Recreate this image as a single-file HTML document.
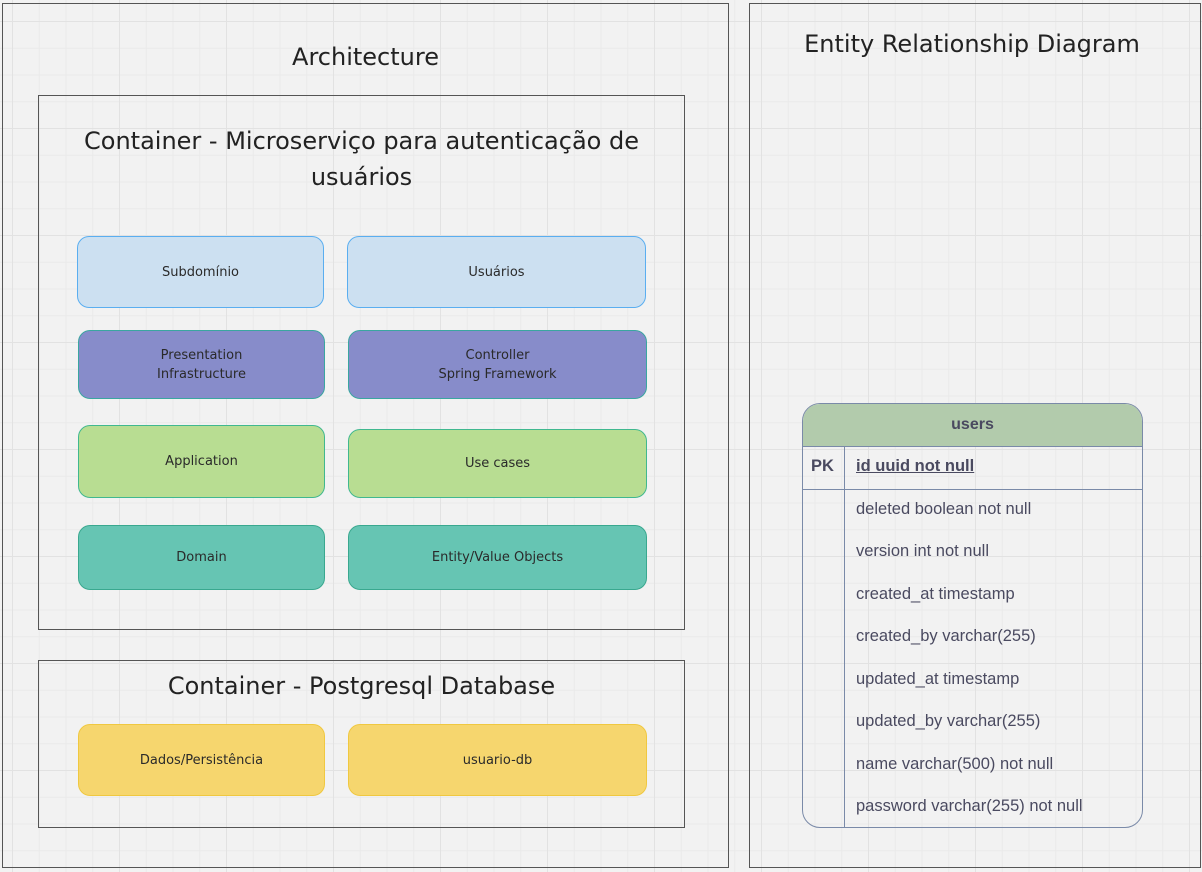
<!DOCTYPE html>
<html><head><meta charset="utf-8"><style>
body{margin:0;width:1202px;height:872px;overflow:hidden;background:#f2f2f2;font-family:"Liberation Sans","DejaVu Sans",sans-serif;position:relative;
background-image:linear-gradient(#e2e2e2 1px,transparent 1px),linear-gradient(90deg,#e2e2e2 1px,transparent 1px),linear-gradient(#eaeaea 1px,transparent 1px),linear-gradient(90deg,#eaeaea 1px,transparent 1px);
background-size:107px 107px,107px 107px,26.75px 26.75px,26.75px 26.75px;background-position:0 21px,12px 0,0 21px,12px 0;}
.a{position:absolute;box-sizing:border-box}
.frame{border:1px solid #555}
.t{text-align:center;color:#222;font-family:'DejaVu Sans',sans-serif;font-size:24px}
.b{position:absolute;box-sizing:border-box;border-radius:12px;display:flex;align-items:center;justify-content:center;text-align:center;color:#2a2a2a;line-height:19px;font-family:"DejaVu Sans",sans-serif;font-size:13px}
.lb{background:#cce0f1;border:1px solid #5aaef0}
.pu{background:#878cca;border:1px solid #3aa6a0}
.gr{background:#b8dd92;border:1px solid #40b88f}
.te{background:#66c5b3;border:1px solid #39a88f}
.ye{background:#f6d66e;border:1px solid #f0c840}
.row{position:absolute;left:856px;font-size:16.5px;color:#4a4a60}
</style></head><body>
<div class="a frame" style="left:2px;top:3px;width:727px;height:865px"></div>
<div class="a frame" style="left:749px;top:3px;width:452px;height:865px"></div>
<div class="a t" style="left:2px;top:43px;width:727px">Architecture</div>
<div class="a t" style="left:749px;top:30px;width:446px">Entity Relationship Diagram</div>
<div class="a frame" style="left:38px;top:95px;width:647px;height:535px"></div>
<div class="a t" style="left:38px;top:123px;width:647px;line-height:36px">Container - Microserviço para autenticação de<br>usuários</div>
<div class="b lb" style="left:77px;top:236px;width:247px;height:72px">Subdomínio</div>
<div class="b lb" style="left:347px;top:236px;width:299px;height:72px">Usuários</div>
<div class="b pu" style="left:78px;top:330px;width:247px;height:69px">Presentation<br>Infrastructure</div>
<div class="b pu" style="left:348px;top:330px;width:299px;height:69px">Controller<br>Spring Framework</div>
<div class="b gr" style="left:78px;top:425px;width:247px;height:73px">Application</div>
<div class="b gr" style="left:348px;top:429px;width:299px;height:69px">Use cases</div>
<div class="b te" style="left:78px;top:525px;width:247px;height:65px">Domain</div>
<div class="b te" style="left:348px;top:525px;width:299px;height:65px">Entity/Value Objects</div>
<div class="a frame" style="left:38px;top:660px;width:647px;height:168px"></div>
<div class="a t" style="left:38px;top:672px;width:647px">Container - Postgresql Database</div>
<div class="b ye" style="left:78px;top:724px;width:247px;height:72px">Dados/Persistência</div>
<div class="b ye" style="left:348px;top:724px;width:299px;height:72px">usuario-db</div>

<div class="a" style="left:802px;top:403px;width:341px;height:425px;border:1.5px solid #7a8aa8;border-radius:18px;overflow:hidden">
<div style="height:42px;background:#b2cbac;border-bottom:1.5px solid #7a8aa8;text-align:center;line-height:42px;font-weight:bold;font-size:16px;color:#4a4a60">users</div>
<div style="height:42px;border-bottom:1.5px solid #7a8aa8"></div>
<div style="position:absolute;left:41px;top:42px;bottom:0;border-left:1.5px solid #7a8aa8"></div>
</div>
<div class="row" style="left:811px;top:457px;font-weight:bold">PK</div>
<div class="row" style="top:457px;font-weight:bold;text-decoration:underline">id uuid not null</div>
<div class="row" style="top:500px">deleted boolean not null</div>
<div class="row" style="top:542px">version int not null</div>
<div class="row" style="top:585px">created_at timestamp</div>
<div class="row" style="top:627px">created_by varchar(255)</div>
<div class="row" style="top:670px">updated_at timestamp</div>
<div class="row" style="top:712px">updated_by varchar(255)</div>
<div class="row" style="top:755px">name varchar(500) not null</div>
<div class="row" style="top:797px">password varchar(255) not null</div>
</body></html>
